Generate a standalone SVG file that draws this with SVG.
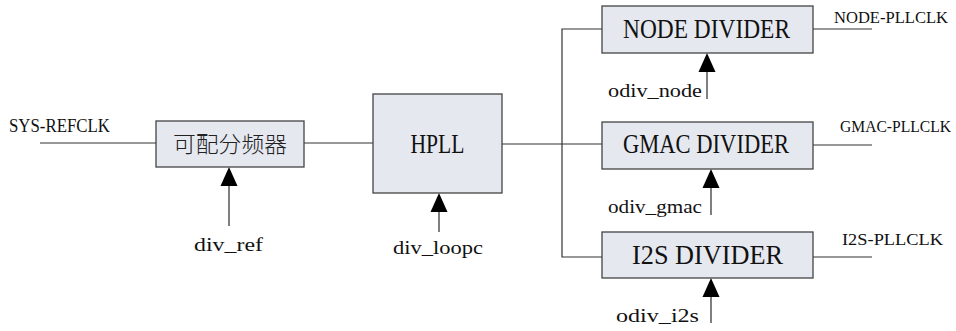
<svg xmlns="http://www.w3.org/2000/svg" width="956" height="331" viewBox="0 0 956 331">
<style>
.box{fill:#e6e8f0;stroke:#444;stroke-width:1.3}
.ln{fill:none;stroke:#333;stroke-width:1.2}
.ar{fill:none;stroke:#555;stroke-width:1.5}
.t{font-family:"Liberation Serif",serif;fill:#111;font-size:27px}
.m{font-family:"Liberation Serif",serif;fill:#111;font-size:18.5px}
.r{font-family:"Liberation Serif",serif;fill:#111;font-size:16.5px}
.cjk{font-family:"Noto Sans CJK SC",sans-serif;fill:#222;font-size:22px;font-weight:300}
</style>
<rect width="956" height="331" fill="#fff"/>
<g id="connectors">
<line class="ln" x1="40" y1="143" x2="156" y2="143"/>
<line class="ln" x1="304" y1="143" x2="373" y2="143"/>
<polyline class="ln" points="502,144 602,144"/>
<polyline class="ln" points="602,29 562,29 562,257 602,257"/>
<line class="ln" x1="813" y1="29" x2="872" y2="29"/>
<line class="ln" x1="813" y1="145" x2="872" y2="145"/>
<line class="ln" x1="813" y1="257" x2="872" y2="257"/>
<line class="ar" x1="229" y1="226" x2="229" y2="186"/>
<path d="M220.5,186 L229,167 L237.5,186 Z" fill="#000"/>
<line class="ar" x1="439" y1="232" x2="439" y2="212"/>
<path d="M430.5,212 L439,193 L447.5,212 Z" fill="#000"/>
<line class="ar" x1="707" y1="99" x2="707" y2="72"/>
<path d="M698.5,72 L707,53 L715.5,72 Z" fill="#000"/>
<line class="ar" x1="711" y1="215" x2="711" y2="188"/>
<path d="M702.5,188 L711,169 L719.5,188 Z" fill="#000"/>
<line class="ar" x1="711" y1="323" x2="711" y2="297"/>
<path d="M702.5,297 L711,278 L719.5,297 Z" fill="#000"/>
</g>
<g id="labels">
<text class="m" x="9" y="132" textLength="101" lengthAdjust="spacingAndGlyphs">SYS-REFCLK</text>
<text class="r" x="834" y="23" textLength="114" lengthAdjust="spacingAndGlyphs">NODE-PLLCLK</text>
<text class="r" x="840" y="132" textLength="111" lengthAdjust="spacingAndGlyphs">GMAC-PLLCLK</text>
<text class="r" x="842" y="245" textLength="101" lengthAdjust="spacingAndGlyphs">I2S-PLLCLK</text>
<text class="m" x="194" y="251" textLength="69" lengthAdjust="spacingAndGlyphs">div_ref</text>
<text class="m" x="393" y="254" textLength="90" lengthAdjust="spacingAndGlyphs">div_loopc</text>
<text class="m" x="608" y="97" textLength="94" lengthAdjust="spacingAndGlyphs">odiv_node</text>
<text class="m" x="608" y="213" textLength="94" lengthAdjust="spacingAndGlyphs">odiv_gmac</text>
<text class="m" x="616" y="322" textLength="83" lengthAdjust="spacingAndGlyphs">odiv_i2s</text>
</g>
<g id="node-divref">
<rect class="box" x="156" y="121" width="148" height="46"/>
<text class="cjk" x="230" y="152" text-anchor="middle" textLength="114" lengthAdjust="spacingAndGlyphs">可配分频器</text>
</g>
<g id="node-hpll">
<rect class="box" x="373" y="94" width="129" height="99"/>
<text class="t" x="437.5" y="153" text-anchor="middle" textLength="54" lengthAdjust="spacingAndGlyphs">HPLL</text>
</g>
<g id="node-node-divider">
<rect class="box" x="602" y="6" width="211" height="47"/>
<text class="t" x="623" y="38" textLength="167" lengthAdjust="spacingAndGlyphs">NODE DIVIDER</text>
</g>
<g id="node-gmac-divider">
<rect class="box" x="602" y="122" width="211" height="47"/>
<text class="t" x="623" y="153" textLength="166" lengthAdjust="spacingAndGlyphs">GMAC DIVIDER</text>
</g>
<g id="node-i2s-divider">
<rect class="box" x="602" y="232" width="211" height="46"/>
<text class="t" x="632" y="264" textLength="151" lengthAdjust="spacingAndGlyphs">I2S DIVIDER</text>
</g>
</svg>
